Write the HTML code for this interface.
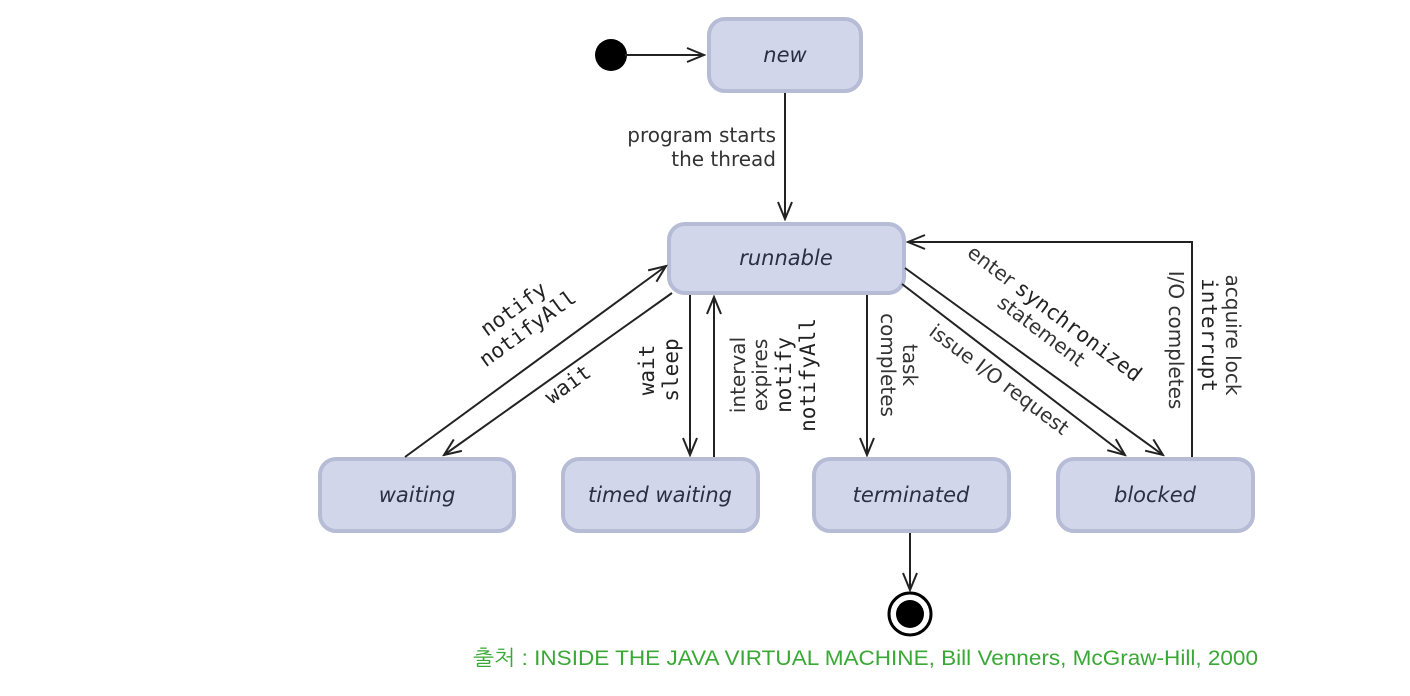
<!DOCTYPE html>
<html><head><meta charset="utf-8"><style>
html,body{margin:0;padding:0;background:#fff;}
svg{display:block}
.st{fill:#d2d6ea;stroke:#b6bbd6;stroke-width:4}
.lb{font-family:"DejaVu Sans","Liberation Sans",sans-serif;font-style:italic;font-size:21px;fill:#2a2f45;text-anchor:middle}
.t{font-family:"DejaVu Sans","Liberation Sans",sans-serif;font-size:20px;fill:#333}
.m{font-family:"DejaVu Sans Mono","Liberation Mono",monospace;font-size:21px;fill:#222}
.ln{stroke:#222;stroke-width:2;fill:none}
</style></head><body>
<svg width="1410" height="696" viewBox="0 0 1410 696">
<defs><marker id="a" markerWidth="20" markerHeight="16" refX="18" refY="8" orient="auto" markerUnits="userSpaceOnUse"><path d="M1,1 L18,8 L1,15" fill="none" stroke="#222" stroke-width="2"/></marker></defs>
<rect class="st" x="709" y="19" width="152" height="72" rx="16"/>
<text class="lb" x="785" y="62">new</text>
<rect class="st" x="669" y="224" width="235" height="69" rx="16"/>
<text class="lb" x="786" y="265">runnable</text>
<rect class="st" x="320" y="459" width="194" height="72" rx="16"/>
<text class="lb" x="417" y="502">waiting</text>
<rect class="st" x="563" y="459" width="195" height="72" rx="16"/>
<text class="lb" x="660" y="502">timed waiting</text>
<rect class="st" x="814" y="459" width="195" height="72" rx="16"/>
<text class="lb" x="911" y="502">terminated</text>
<rect class="st" x="1058" y="459" width="195" height="72" rx="16"/>
<text class="lb" x="1155" y="502">blocked</text>

<circle cx="611" cy="55" r="16" fill="#000"/>
<line class="ln" x1="625" y1="55" x2="704" y2="55" marker-end="url(#a)"/>
<line class="ln" x1="785" y1="93" x2="785" y2="219" marker-end="url(#a)"/>
<text class="t" x="776" y="142" text-anchor="end">program starts</text>
<text class="t" x="776" y="166" text-anchor="end">the thread</text>

<line class="ln" x1="405" y1="457" x2="666" y2="266" marker-end="url(#a)"/>
<line class="ln" x1="672" y1="293" x2="444" y2="455" marker-end="url(#a)"/>
<g transform="translate(520,318) rotate(-36)"><text class="m" x="0" y="-4" text-anchor="middle">notify</text><text class="m" x="0" y="20" text-anchor="middle">notifyAll</text></g>
<g transform="translate(572,390) rotate(-36)"><text class="m" x="0" y="0" text-anchor="middle">wait</text></g>

<line class="ln" x1="690" y1="295" x2="690" y2="455" marker-end="url(#a)"/>
<line class="ln" x1="714" y1="457" x2="714" y2="297" marker-end="url(#a)"/>
<g transform="translate(660,370) rotate(-90)"><text class="m" x="0" y="-6" text-anchor="middle">wait</text><text class="m" x="0" y="18" text-anchor="middle">sleep</text></g>
<g transform="translate(775,375) rotate(-90)"><text class="t" x="0" y="-30" text-anchor="middle">interval</text><text class="t" x="0" y="-8" text-anchor="middle">expires</text><text class="m" x="0" y="16" text-anchor="middle">notify</text><text class="m" x="0" y="40" text-anchor="middle">notifyAll</text></g>

<line class="ln" x1="867" y1="295" x2="867" y2="455" marker-end="url(#a)"/>
<g transform="translate(898,365) rotate(90)"><text class="t" x="0" y="-5" text-anchor="middle">task</text><text class="t" x="0" y="17" text-anchor="middle">completes</text></g>

<line class="ln" x1="902" y1="284" x2="1125" y2="455" marker-end="url(#a)"/>
<line class="ln" x1="905" y1="268" x2="1163" y2="455" marker-end="url(#a)"/>
<polyline class="ln" points="1192,457 1192,242 908,242" marker-end="url(#a)"/>
<g transform="translate(1048,322) rotate(37)"><text x="0" y="-4" text-anchor="middle"><tspan class="t">enter </tspan><tspan class="m">synchronized</tspan></text><text class="t" x="0" y="18" text-anchor="middle">statement</text></g>
<g transform="translate(995,385) rotate(37)"><text class="t" x="0" y="0" text-anchor="middle">issue I/O request</text></g>
<g transform="translate(1175,340) rotate(90)"><text class="t" x="0" y="6" text-anchor="middle">I/O completes</text></g>
<g transform="translate(1220,335) rotate(90)"><text class="t" x="0" y="-6" text-anchor="middle">acquire lock</text><text class="m" x="0" y="18" text-anchor="middle">interrupt</text></g>

<line class="ln" x1="910" y1="533" x2="910" y2="590" marker-end="url(#a)"/>
<circle cx="910" cy="614" r="21" fill="#fff" stroke="#000" stroke-width="3"/>
<circle cx="910" cy="614" r="14" fill="#000"/>

<text x="473" y="665" textLength="785" lengthAdjust="spacingAndGlyphs" font-family="'Liberation Sans','NanumGothic',sans-serif" font-size="21" fill="#3aa836">출처 : INSIDE THE JAVA VIRTUAL MACHINE, Bill Venners, McGraw-Hill, 2000</text>
</svg>
</body></html>
